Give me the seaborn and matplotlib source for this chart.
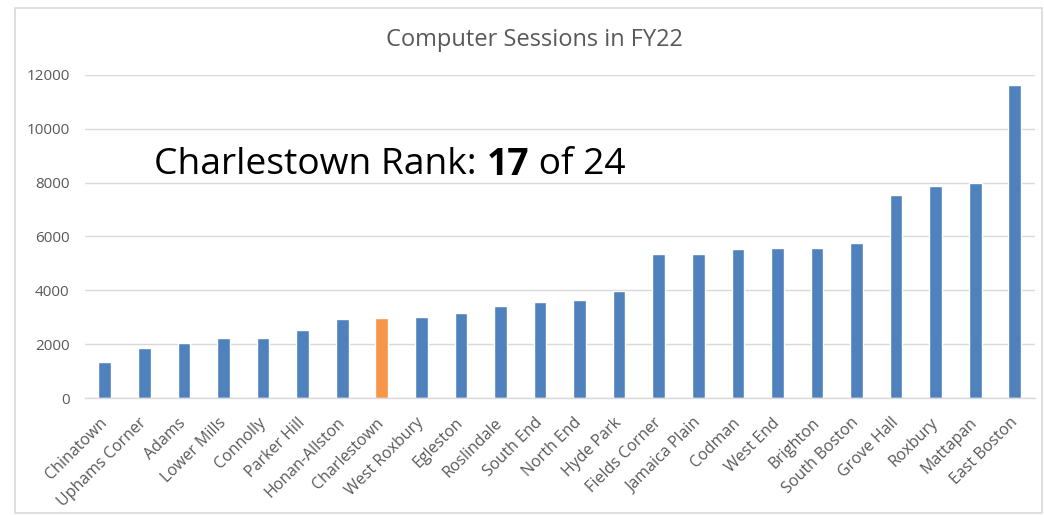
import matplotlib
matplotlib.use("Agg")
import matplotlib.pyplot as plt
import seaborn as sns
from matplotlib.patches import Rectangle

# Data
branches = ['Chinatown', 'Uphams Corner', 'Adams', 'Lower Mills', 'Connolly',
            'Parker Hill', 'Honan-Allston', 'Charlestown', 'West Roxbury',
            'Egleston', 'Roslindale', 'South End', 'North End', 'Hyde Park',
            'Fields Corner', 'Jamaica Plain', 'Codman', 'West End', 'Brighton',
            'South Boston', 'Grove Hall', 'Roxbury', 'Mattapan', 'East Boston']
sessions = [1360, 1865, 2050, 2236, 2236, 2521, 2929, 2989, 3026, 3174,
            3423, 3560, 3645, 3968, 5340, 5340, 5525, 5585, 5585, 5748,
            7528, 7873, 7995, 11607]
highlight = 'Charlestown'
y_ticks = [0, 2000, 4000, 6000, 8000, 10000, 12000]

sns.set_style("white")
plt.rcParams['font.family'] = ['Open Sans', 'DejaVu Sans']

grey_text = '#595959'
grid_col = '#D9D9D9'

fig = plt.figure(figsize=(10.44, 5.15), dpi=100)
ax = fig.add_axes([0.0814, 0.2266, 0.9096, 0.6284])

groups = ['hi' if b == highlight else 'base' for b in branches]
sns.barplot(x=branches, y=sessions, hue=groups,
            palette={'base': '#4F81BD', 'hi': '#F79646'},
            width=0.32, saturation=1, legend=False, ax=ax, zorder=3)

ax.set_xlim(-0.5, len(branches) - 0.5)
ax.set_ylim(0, 12000)
ax.set_yticks(y_ticks)
ax.set_yticklabels([str(t) for t in y_ticks])
ax.grid(axis='y', color=grid_col, linewidth=1, zorder=0)
ax.set_axisbelow(True)
for s in ['top', 'right', 'left']:
    ax.spines[s].set_visible(False)
ax.spines['bottom'].set_color(grid_col)
ax.spines['bottom'].set_linewidth(1)
ax.spines['bottom'].set_zorder(4)

ax.tick_params(axis='both', length=0, colors=grey_text)
ax.tick_params(axis='y', pad=11, labelsize=11)
ax.tick_params(axis='x', pad=16, labelsize=11.5)
plt.setp(ax.get_xticklabels(), rotation=45, ha='right', va='center',
         rotation_mode='anchor')
ax.set_xlabel('')
ax.set_ylabel('')

fig.text(0.5115, 0.922, 'Computer Sessions in FY22', ha='center', va='center',
         fontsize=17, color=grey_text)

# rank annotation with bold number
ann_size = 26.8
t1 = ax.text(0.073, 0.72, 'Charlestown Rank: ', transform=ax.transAxes,
             fontsize=ann_size, color='black', va='center', ha='left')
fig.canvas.draw()
inv = ax.transAxes.inverted()
x2 = inv.transform((t1.get_window_extent().x1, 0))[0]
t2 = ax.text(x2, 0.72, '17', transform=ax.transAxes, fontsize=ann_size,
             fontweight='bold', color='black', va='center', ha='left')
fig.canvas.draw()
x3 = inv.transform((t2.get_window_extent().x1, 0))[0]
ax.text(x3, 0.72, ' of 24', transform=ax.transAxes, fontsize=ann_size,
        color='black', va='center', ha='left')

fig.patches.append(Rectangle((0.0144, 0.004), 0.984, 0.98, transform=fig.transFigure,
                             fill=False, edgecolor='#D9D9D9', linewidth=1.2))

fig.savefig('out.png', dpi=100)
